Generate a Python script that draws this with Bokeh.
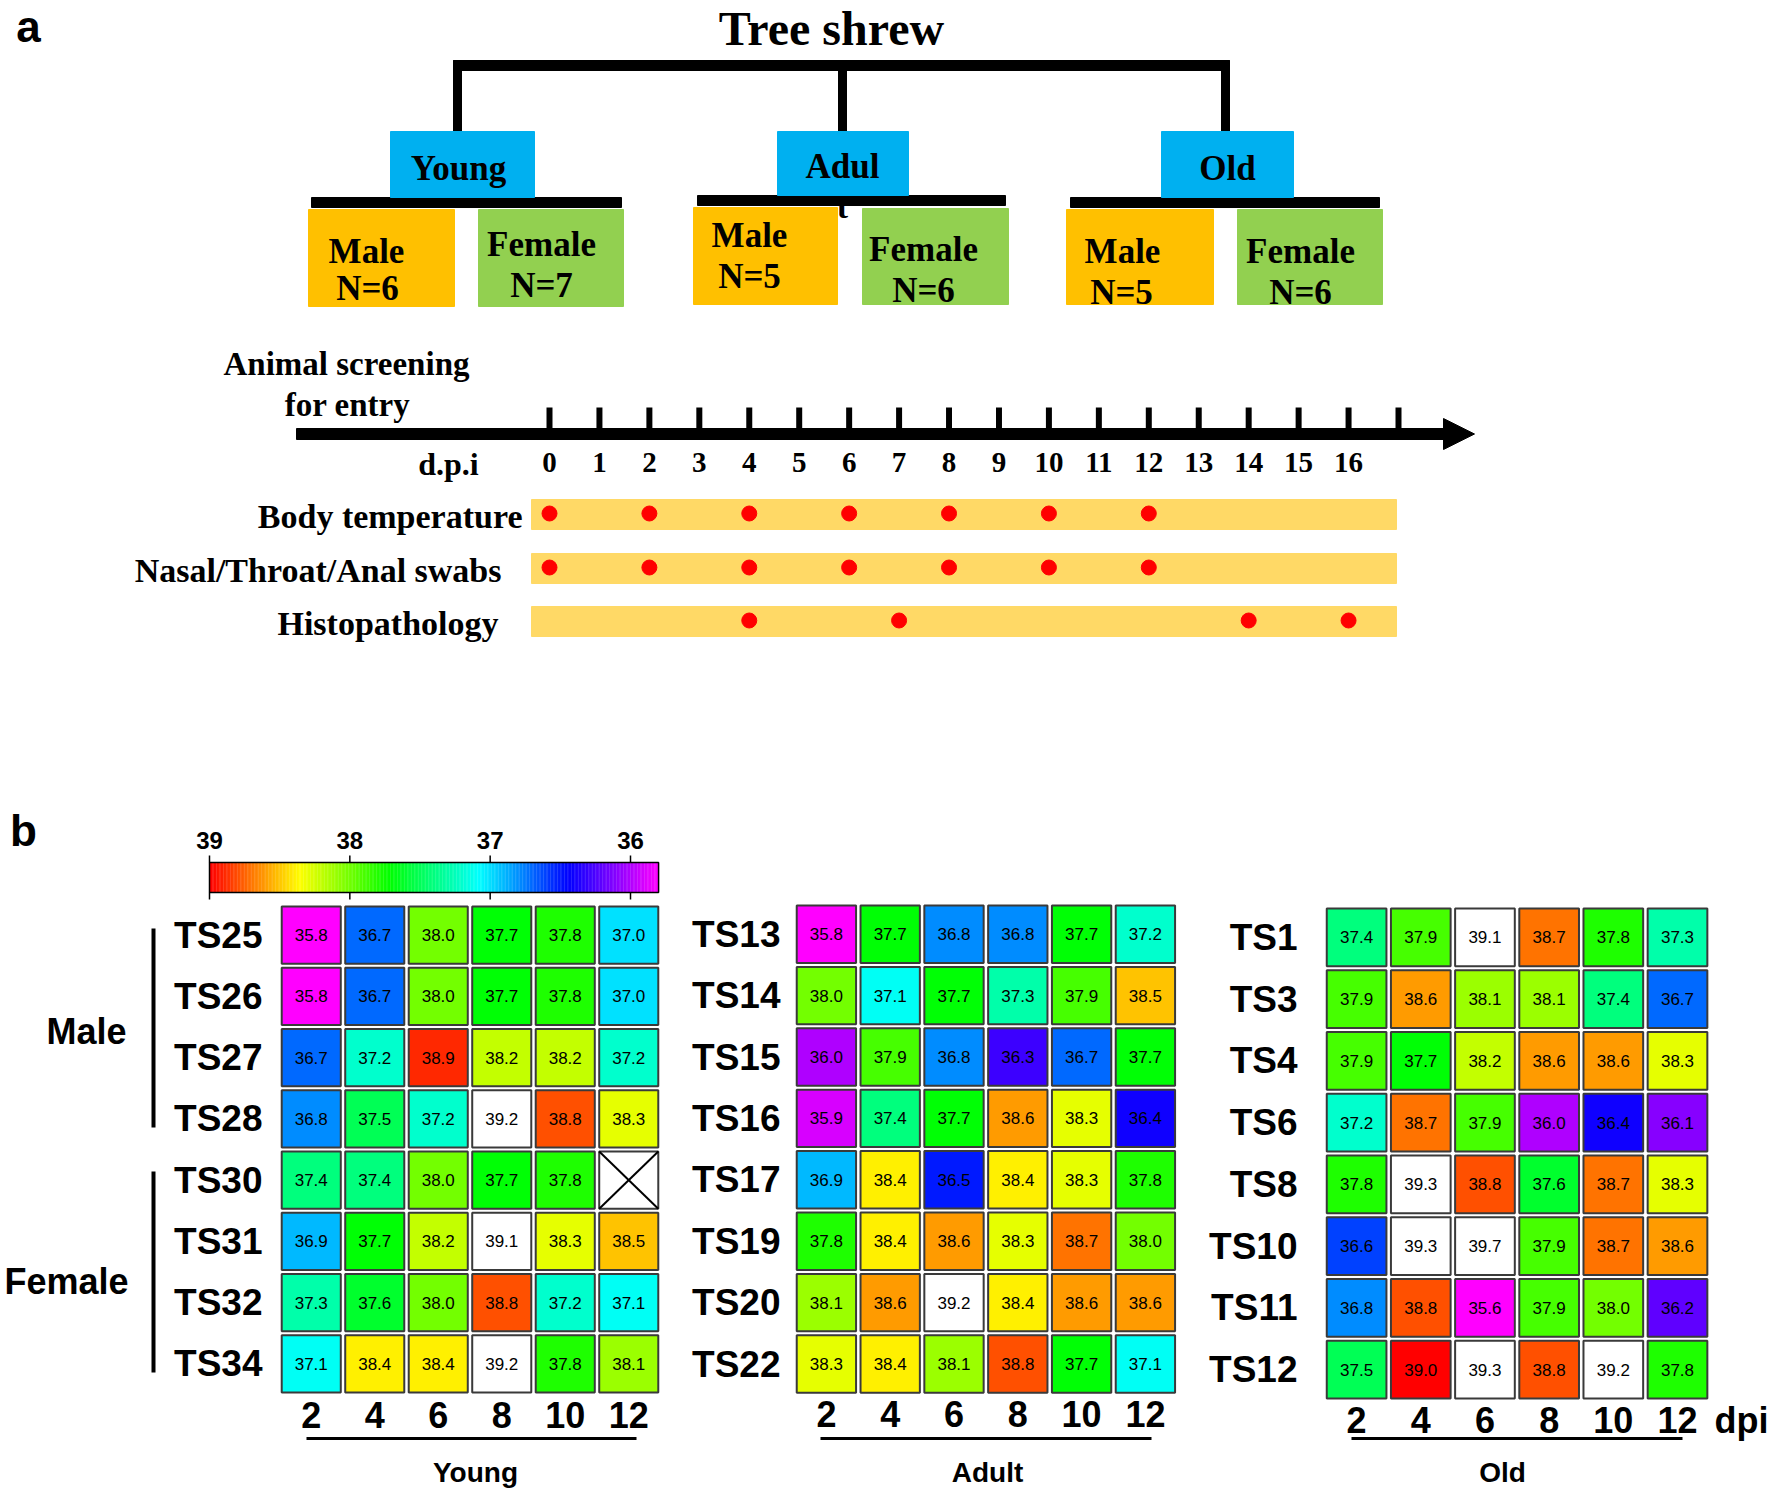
import colorsys
import numpy as np
from bokeh.plotting import figure
from bokeh.models import Range1d, ColumnDataSource, LinearColorMapper
from bokeh.transform import transform
from bokeh.core.properties import value
from bokeh.embed import file_html
from bokeh.resources import INLINE

# ---------------- data ----------------
days = [2, 4, 6, 8, 10, 12]

young_ids = ["TS25", "TS26", "TS27", "TS28", "TS30", "TS31", "TS32", "TS34"]
young_temps = [
    [35.8, 36.7, 38.0, 37.7, 37.8, 37.0],
    [35.8, 36.7, 38.0, 37.7, 37.8, 37.0],
    [36.7, 37.2, 38.9, 38.2, 38.2, 37.2],
    [36.8, 37.5, 37.2, 39.2, 38.8, 38.3],
    [37.4, 37.4, 38.0, 37.7, 37.8, None],
    [36.9, 37.7, 38.2, 39.1, 38.3, 38.5],
    [37.3, 37.6, 38.0, 38.8, 37.2, 37.1],
    [37.1, 38.4, 38.4, 39.2, 37.8, 38.1],
]

adult_ids = ["TS13", "TS14", "TS15", "TS16", "TS17", "TS19", "TS20", "TS22"]
adult_temps = [
    [35.8, 37.7, 36.8, 36.8, 37.7, 37.2],
    [38.0, 37.1, 37.7, 37.3, 37.9, 38.5],
    [36.0, 37.9, 36.8, 36.3, 36.7, 37.7],
    [35.9, 37.4, 37.7, 38.6, 38.3, 36.4],
    [36.9, 38.4, 36.5, 38.4, 38.3, 37.8],
    [37.8, 38.4, 38.6, 38.3, 38.7, 38.0],
    [38.1, 38.6, 39.2, 38.4, 38.6, 38.6],
    [38.3, 38.4, 38.1, 38.8, 37.7, 37.1],
]

old_ids = ["TS1", "TS3", "TS4", "TS6", "TS8", "TS10", "TS11", "TS12"]
old_temps = [
    [37.4, 37.9, 39.1, 38.7, 37.8, 37.3],
    [37.9, 38.6, 38.1, 38.1, 37.4, 36.7],
    [37.9, 37.7, 38.2, 38.6, 38.6, 38.3],
    [37.2, 38.7, 37.9, 36.0, 36.4, 36.1],
    [37.8, 39.3, 38.8, 37.6, 38.7, 38.3],
    [36.6, 39.3, 39.7, 37.9, 38.7, 38.6],
    [36.8, 38.8, 35.6, 37.9, 38.0, 36.2],
    [37.5, 39.0, 39.3, 38.8, 39.2, 37.8],
]

colorbar_ticks = [39, 38, 37, 36]
temp_low, temp_high = 35.8, 39.0

timeline_label_days = list(range(0, 17))
timeline_tick_days = list(range(0, 18))
body_temp_days = [0, 2, 4, 6, 8, 10, 12]
swab_days = [0, 2, 4, 6, 8, 10, 12]
histo_days = [4, 7, 14, 16]

age_groups = ["Young", "Adul", "Old"]
male_n = [6, 5, 5]
female_n = [7, 6, 6]

# ---------------- page ----------------
OFF = 0
W, H = 1770, 1493

p = figure(width=W, height=H, x_range=Range1d(OFF, OFF + W), y_range=Range1d(OFF + H, OFF),
           toolbar_location=None, output_backend="svg", min_border=0,
           x_axis_location=None, y_axis_location=None)
p.xgrid.grid_line_color = None
p.ygrid.grid_line_color = None
p.outline_line_color = None
p.background_fill_color = "white"
p.border_fill_color = "white"


def frame_range(v0, p0, v1, p1, axis):
    s = (p1 - p0) / (v1 - v0)
    if axis == "x":
        a, b = OFF, OFF + W
    else:
        a, b = OFF + H, OFF
    return Range1d(start=v0 + (a - p0) / s, end=v0 + (b - p0) / s)


SERIF = value("Liberation Serif")
SANS = value("Liberation Sans")

extra_x = {}
extra_y = {}

# colour mapping: rainbow from magenta (low) to red (high), white above
palette = []
for k in range(256):
    h = 300.0 * (1 - k / 255.0) / 360.0
    r, g, b = colorsys.hsv_to_rgb(h, 1, 1)
    palette.append("#%02x%02x%02x" % (int(round(r * 255)), int(round(g * 255)), int(round(b * 255))))
mapper = LinearColorMapper(palette=palette, low=temp_low, high=temp_high,
                           high_color="#ffffff", low_color="#ff00ff", nan_color="#ffffff")


def label(x, y, text, font, size, align="center", bold=True, **kw):
    p.text(x=x, y=y, text=text, text_font=font, text_font_style="bold" if bold else "normal",
           text_font_size=size, text_align=align, text_baseline="middle", text_color="black", **kw)


# ================= part a =================
label([28], [26], ["a"], SANS, "44px")
label([831], [28], ["Tree shrew"], SERIF, "48px")

# stray "t" of "Adul t" hidden behind the bar
label([842], [206], ["t"], SERIF, "34px")

# tree brackets
p.quad(left=[453], right=[1229], top=[60], bottom=[70], color="black")
stem_x = [457, 842, 1225]
p.quad(left=[x - 4 for x in stem_x], right=[x + 4 for x in stem_x], top=[60] * 3, bottom=[131] * 3, color="black")
p.quad(left=[311, 697, 1070], right=[621, 1005, 1379], top=[197, 195, 197], bottom=[207, 205, 207], color="black")

# age boxes
box_l = [390, 777, 1161]
box_r = [534, 908, 1293]
box_b = [197, 195, 197]
p.quad(left=box_l, right=box_r, top=[131] * 3, bottom=box_b, color="#00B0F0")
label([458, 842, 1227], [168, 166, 168], age_groups, SERIF, "35px")

# gender boxes
m_l = [308, 693, 1066]
m_r = [454, 837, 1213]
m_t = [209, 207, 209]
m_b = [306, 304, 304]
f_l = [478, 862, 1237]
f_r = [623, 1008, 1382]
f_t = [209, 208, 209]
f_b = [306, 304, 304]
p.quad(left=m_l, right=m_r, top=m_t, bottom=m_b, color="#FFC000")
p.quad(left=f_l, right=f_r, top=f_t, bottom=f_b, color="#92D050")
label([366, 749, 1122], [251, 235, 251], ["Male"] * 3, SERIF, "35px")
label([367, 749, 1121], [288, 276, 292], ["N=%d" % n for n in male_n], SERIF, "35px")
label([541, 923, 1300], [244, 249, 251], ["Female"] * 3, SERIF, "35px")
label([541, 923, 1300], [285, 290, 292], ["N=%d" % n for n in female_n], SERIF, "35px")

# timeline
extra_x["dpi"] = frame_range(0, 549, 17, 1398, "x")
label([346, 347], [363, 404], ["Animal screening", "for entry"], SERIF, "33px")
p.quad(left=[296], right=[1447], top=[428], bottom=[439], color="black")
p.patch(x=[1443, 1474, 1443], y=[418, 433.5, 449], color="black")
p.segment(x0=timeline_tick_days, x1=timeline_tick_days, y0=[407] * len(timeline_tick_days),
          y1=[429] * len(timeline_tick_days), line_width=6, color="black", x_range_name="dpi")
label(timeline_label_days, [462] * len(timeline_label_days), [str(d) for d in timeline_label_days],
      SERIF, "29px", x_range_name="dpi")
label([448], [463], ["d.p.i"], SERIF, "32px")

band_labels = ["Body temperature", "Nasal/Throat/Anal swabs", "Histopathology"]
band_days = [body_temp_days, swab_days, histo_days]
band_top = [499, 553, 606]
band_bot = [529, 583, 636]
band_label_x = [522, 501, 498]
p.quad(left=[531] * 3, right=[1396] * 3, top=band_top, bottom=band_bot, color="#FFD966")
label(band_label_x, [(a + b) / 2 + 2 for a, b in zip(band_top, band_bot)], band_labels, SERIF, "34px",
      align="right")
for dlist, t, b in zip(band_days, band_top, band_bot):
    p.scatter(x=dlist, y=[(t + b) / 2 - 1] * len(dlist), size=15, color="#FF0000", x_range_name="dpi")

# ================= part b =================
label([23], [830], ["b"], SANS, "44px")

# colour bar
extra_x["cb"] = frame_range(39, 209, 36, 630, "x")
n_cb = 320
step = (temp_high - temp_low) / n_cb
cb_vals = np.linspace(temp_low + step / 2, temp_high - step / 2, n_cb)
cb_src = ColumnDataSource(dict(l=cb_vals - step * 0.6, r=cb_vals + step * 0.6, v=cb_vals))
p.quad(left="l", right="r", top=862, bottom=892, source=cb_src, fill_color=transform("v", mapper),
       line_color=None, x_range_name="cb")
p.quad(left=[temp_high], right=[temp_low], top=[862], bottom=[892], fill_color=None, line_color="black",
       line_width=1.5, x_range_name="cb")
p.segment(x0=colorbar_ticks, x1=colorbar_ticks, y0=[855] * 4, y1=[862] * 4, line_width=1.5, color="black",
          x_range_name="cb")
p.segment(x0=colorbar_ticks, x1=colorbar_ticks, y0=[892] * 4, y1=[899] * 4, line_width=1.5, color="black",
          x_range_name="cb")
label(colorbar_ticks, [840] * 4, [str(t) for t in colorbar_ticks], SANS, "24px", x_range_name="cb")

panels = [
    dict(key="young", ids=young_ids, temps=young_temps, x0=310.75, x1=628.25, y0=934.6, y1=1363.4,
         label_x=262, tick_y=1414, line=(306, 636), title="Young", title_x=475),
    dict(key="adult", ids=adult_ids, temps=adult_temps, x0=825.9, x1=1144.9, y0=933.7, y1=1363.5,
         label_x=780, tick_y=1413, line=(820, 1151), title="Adult", title_x=987),
    dict(key="old", ids=old_ids, temps=old_temps, x0=1356.1, x1=1677.0, y0=936.9, y1=1369.1,
         label_x=1297, tick_y=1419, line=(1351, 1682), title="Old", title_x=1502),
]

cell_w = 1.86   # in days
cell_h = 0.935  # in rows

for P in panels:
    xr = P["key"] + "_x"
    yr = P["key"] + "_y"
    n = len(P["ids"])
    extra_x[xr] = frame_range(days[0], P["x0"], days[-1], P["x1"], "x")
    extra_y[yr] = frame_range(0, P["y0"], n - 1, P["y1"], "y")

    xs, ys, vs, txt = [], [], [], []
    for i, row in enumerate(P["temps"]):
        for d, v in zip(days, row):
            xs.append(d)
            ys.append(i)
            vs.append(np.nan if v is None else v)
            txt.append("" if v is None else "%.1f" % v)
    src = ColumnDataSource(dict(x=xs, y=ys, v=np.array(vs, dtype=float), t=txt))
    p.rect(x="x", y="y", width=cell_w, height=cell_h, source=src, fill_color=transform("v", mapper),
           line_color="#3a3a3a", line_width=2, x_range_name=xr, y_range_name=yr)
    p.text(x="x", y="y", text="t", source=src, text_font=SANS, text_font_size="17px", text_align="center",
           text_baseline="middle", text_color="black", x_range_name=xr, y_range_name=yr)

    # cross for missing values
    mx = [x for x, v in zip(xs, vs) if np.isnan(v)]
    my = [y for y, v in zip(ys, vs) if np.isnan(v)]
    if mx:
        p.segment(x0=[x - cell_w / 2 for x in mx], y0=[y - cell_h / 2 for y in my],
                  x1=[x + cell_w / 2 for x in mx], y1=[y + cell_h / 2 for y in my],
                  line_width=2, color="black", x_range_name=xr, y_range_name=yr)
        p.segment(x0=[x - cell_w / 2 for x in mx], y0=[y + cell_h / 2 for y in my],
                  x1=[x + cell_w / 2 for x in mx], y1=[y - cell_h / 2 for y in my],
                  line_width=2, color="black", x_range_name=xr, y_range_name=yr)

    # row labels
    label([P["label_x"]] * n, list(range(n)), P["ids"], SANS, "37px", align="right", y_range_name=yr)
    # day labels
    label(days, [P["tick_y"]] * len(days), [str(d) for d in days], SANS, "36px", x_range_name=xr)
    # underline and group title
    p.segment(x0=[P["line"][0]], x1=[P["line"][1]], y0=[1438], y1=[1438], line_width=3, color="black")
    label([P["title_x"]], [1472], [P["title"]], SANS, "28px")

label([1714], [1420], ["dpi"], SANS, "36px", align="left")

# sex brackets
p.segment(x0=[153, 153], x1=[153, 153], y0=[928, 1171], y1=[1127, 1372], line_width=4, color="black")
label([86, 66], [1031, 1281], ["Male", "Female"], SANS, "36px")

p.extra_x_ranges = extra_x
p.extra_y_ranges = extra_y

open("out.html", "w").write(file_html(p, INLINE))
